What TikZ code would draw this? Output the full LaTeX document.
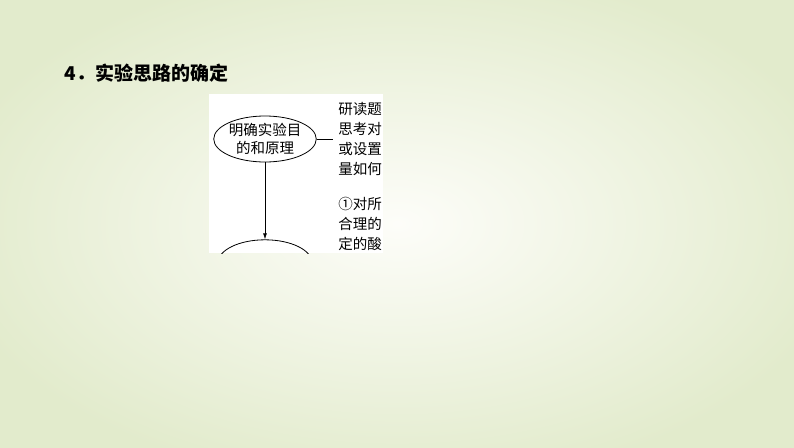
\documentclass[tikz,border=0pt]{standalone}
\usepackage{fontspec}
\setmainfont{Noto Sans CJK SC}
\usetikzlibrary{arrows.meta,positioning,shapes.geometric}
\definecolor{slideedge}{RGB}{226,235,204}
\definecolor{slidemid}{RGB}{253,253,249}

\begin{document}
\begin{tikzpicture}[
		x=1pt, y=-1pt,
		line width=0.8pt,
		aim/.style={ellipse, draw, minimum width=94pt, minimum height=46pt, inner sep=0pt, align=center, font=\fontsize{14.5}{18}\selectfont},
		note/.style={anchor=north west, inner sep=0pt, align=left, font=\fontsize{14.5}{20}\selectfont},
	]
		\useasboundingbox (0,0) rectangle (794,447);
		\shade[inner color=slidemid, outer color=slideedge] (-60,-40) rectangle (854,487);

		\node (title) [anchor=west, font=\bfseries\fontsize{19}{19}\selectfont] at (61,73) {4．实验思路的确定};

		\fill[white] (209,94) rectangle (383,253);
		\begin{scope}
			\clip (209,94) rectangle (383,253);
			\node (goal) [aim] at (265,139) {明确实验目\\的和原理};
			\node (read) [note] at (338,102) {研读题\\思考对\\或设置\\量如何};
			\node (first) [note] at (338,197) {①对所\\合理的\\定的酸};
			\node (next) [aim, below=77pt of goal.south, anchor=north] {};
			\coordinate (read end) at (read.west|-goal);

			\draw (goal.east) -- ([xshift=-5pt]read end);
			\draw[-{Latex[length=6pt,width=4pt]}] (goal.south) -- (next.north);
		\end{scope}
	\end{tikzpicture}
\end{document}
